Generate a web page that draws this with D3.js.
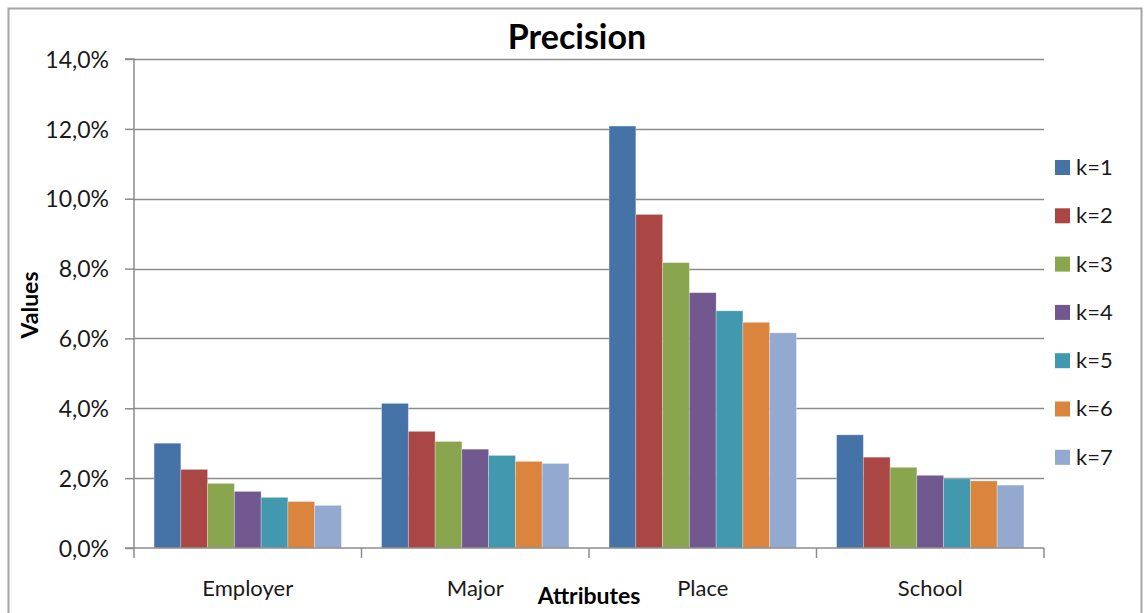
<!DOCTYPE html>
<html>
<head>
<meta charset="utf-8">
<script src="https://cdn.jsdelivr.net/npm/d3@7"></script>
<style>
  html, body { margin: 0; padding: 0; background: #fff; }
  svg { display: block; font-family: Lato, "Open Sans", sans-serif; }
</style>
</head>
<body>
<svg id="chart" width="1144" height="613"></svg>
<script>
// Precision per attribute for k = 1..7
const categories = ["Employer", "Major", "Place", "School"];
const seriesNames = ["k=1", "k=2", "k=3", "k=4", "k=5", "k=6", "k=7"];
const employer = [3.0, 2.25, 1.85, 1.62, 1.45, 1.33, 1.22];
const major    = [4.14, 3.34, 3.05, 2.83, 2.65, 2.48, 2.42];
const place    = [12.08, 9.55, 8.17, 7.31, 6.79, 6.46, 6.16];
const school   = [3.24, 2.60, 2.31, 2.08, 1.98, 1.92, 1.80];
const yTicks = [0, 2, 4, 6, 8, 10, 12, 14];
const colors = ["#4572A7", "#AA4643", "#89A54E", "#71588F", "#4198AF", "#DB843D", "#93A9CF"];

const rows = [employer, major, place, school];

const svg = d3.select("#chart");
const plot = { left: 134, right: 1044, top: 59, bottom: 548 };

// outer frame
svg.append("rect")
  .attr("x", 8.5).attr("y", 8.5)
  .attr("width", 1133).attr("height", 640)
  .attr("fill", "none").attr("stroke", "#a6a6a6").attr("stroke-width", 2);

const x0 = d3.scaleBand().domain(categories).range([plot.left, plot.right]).paddingInner(0).paddingOuter(0);
// Excel-style gap: 150% of a bar width split across both sides of each group
const barW = x0.bandwidth() / (seriesNames.length + 1.5);
const x1 = d3.scaleBand().domain(seriesNames)
  .range([barW * 0.75, barW * 0.75 + barW * seriesNames.length]).padding(0);
const y = d3.scaleLinear().domain([0, 14]).range([plot.bottom, plot.top]);

// horizontal gridlines
svg.append("g").selectAll("line").data(yTicks.filter(d => d > 0)).join("line")
  .attr("x1", plot.left).attr("x2", plot.right)
  .attr("y1", d => Math.round(y(d)) + 0.5).attr("y2", d => Math.round(y(d)) + 0.5)
  .attr("stroke", "#8c8c8c").attr("stroke-width", 1.5);

// bars
const groups = svg.append("g").selectAll("g").data(categories).join("g")
  .attr("transform", d => `translate(${x0(d)},0)`);
groups.selectAll("rect")
  .data((c, i) => rows[i].map((v, j) => ({ key: seriesNames[j], v, j })))
  .join("rect")
  .attr("x", d => x1(d.key))
  .attr("width", x1.bandwidth())
  .attr("y", d => y(d.v))
  .attr("height", d => y(0) - y(d.v))
  .attr("fill", d => colors[d.j])
  .attr("stroke", "rgba(255,255,255,0.35)").attr("stroke-width", 0.8);

// y axis
const yAxis = d3.axisLeft(y).tickValues(yTicks).tickSize(9).tickPadding(16)
  .tickFormat(d => d.toFixed(1).replace(".", ",") + "%");
const gy = svg.append("g").attr("transform", `translate(${plot.left},0)`).call(yAxis);
gy.select(".domain").attr("stroke", "#8c8c8c").attr("stroke-width", 1.5).attr("d", `M-9,${plot.top}H0V${plot.bottom}H-9`);
gy.selectAll(".tick line").attr("stroke", "#8c8c8c").attr("stroke-width", 1.5);
gy.selectAll(".tick text").attr("font-size", 23).attr("fill", "#1a1a1a")
  .attr("font-family", "Lato, sans-serif").attr("dy", "0.36em");

// x axis with ticks at category boundaries
const gx = svg.append("g").attr("transform", `translate(0,${plot.bottom})`);
gx.append("line").attr("x1", plot.left).attr("x2", plot.right)
  .attr("stroke", "#8c8c8c").attr("stroke-width", 1.5);
const bounds = categories.map(c => x0(c)).concat([plot.right]);
gx.selectAll("line.b").data(bounds).join("line").attr("class", "b")
  .attr("x1", d => d).attr("x2", d => d).attr("y1", 0).attr("y2", 10)
  .attr("stroke", "#8c8c8c").attr("stroke-width", 1.5);
gx.selectAll("text").data(categories).join("text")
  .attr("x", d => x0(d) + x0.bandwidth() / 2)
  .attr("y", 48)
  .attr("text-anchor", "middle")
  .attr("font-size", 22).attr("fill", "#1a1a1a")
  .text(d => d);

// titles
svg.append("text").attr("x", 577).attr("y", 49)
  .attr("text-anchor", "middle").attr("font-weight", "bold").attr("font-size", 34)
  .attr("fill", "#000").text("Precision");
svg.append("text").attr("x", 589).attr("y", 604)
  .attr("text-anchor", "middle").attr("font-weight", "bold").attr("font-size", 23)
  .attr("fill", "#000").text("Attributes");
svg.append("text").attr("transform", "translate(38,305) rotate(-90)")
  .attr("text-anchor", "middle").attr("font-weight", "bold").attr("font-size", 23)
  .attr("fill", "#000").text("Values");

// legend
const legend = svg.append("g").attr("transform", "translate(1055,167)");
const li = legend.selectAll("g").data(seriesNames).join("g")
  .attr("transform", (d, i) => `translate(0,${i * 48.3})`);
li.append("rect").attr("x", 0).attr("y", -7).attr("width", 15).attr("height", 15)
  .attr("fill", (d, i) => colors[i]);
li.append("text").attr("x", 21).attr("y", 0).attr("dy", "0.36em")
  .attr("font-size", 22).attr("fill", "#1a1a1a").text(d => d);
</script>
</body>
</html>
